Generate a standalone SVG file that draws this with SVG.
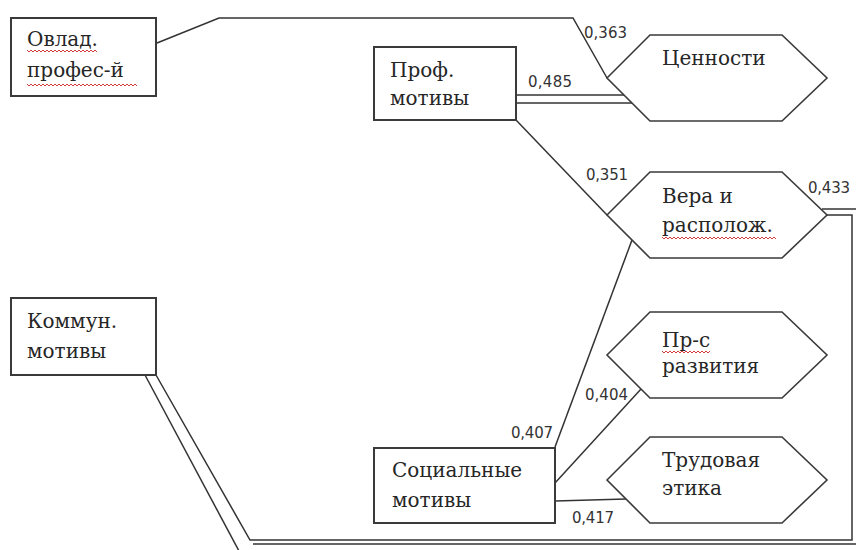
<svg xmlns="http://www.w3.org/2000/svg" width="856" height="550" viewBox="0 0 856 550">
  <defs>
    <style>
      .box { fill: #ffffff; stroke: #3a3a3a; stroke-width: 2; }
      .hex { fill: #ffffff; stroke: #3a3a3a; stroke-width: 1.6; stroke-linejoin: miter; }
      .edge { fill: none; stroke: #333333; stroke-width: 1.5; }
      .lbl { font-family: "DejaVu Serif", serif; font-size: 20px; fill: #262626; }
      .num { font-family: "DejaVu Sans", "Liberation Sans", sans-serif; font-size: 15px; fill: #333333; }
      .spell { fill: none; stroke: #d23c3c; stroke-width: 1; }
    </style>
    <!-- Hexagon outline shared by the right-hand factor nodes -->
    <polygon id="hexShape" class="hex" points="0,0 43,-43 175,-43 220,0 175,43 43,43"/>
  </defs>

  <rect width="856" height="550" fill="#ffffff"/>

  <!-- connectors -->
  <g id="connectors">
    <!-- Овлад. профес-й -> Ценности -->
    <polyline class="edge" points="157,43 219,18 573,18 607,78"/>
    <!-- Проф. мотивы -> Ценности (double) -->
    <line class="edge" x1="516" y1="95" x2="624" y2="95"/>
    <line class="edge" x1="516" y1="103" x2="632" y2="103"/>
    <!-- Проф. мотивы -> Вера и располож. -->
    <line class="edge" x1="516" y1="120" x2="607" y2="215"/>
    <!-- Социальные мотивы -> Вера и располож. -->
    <line class="edge" x1="555" y1="447" x2="632" y2="240"/>
    <!-- Социальные мотивы -> Пр-с развития -->
    <line class="edge" x1="555" y1="483" x2="641" y2="389"/>
    <!-- Социальные мотивы -> Трудовая этика -->
    <line class="edge" x1="555" y1="501" x2="626" y2="499"/>
    <!-- Коммун. мотивы <-> Вера и располож. (double, around the frame) -->
    <polyline class="edge" points="156,375 250,540 852,540 852,215 827,215"/>
    <polyline class="edge" points="145,375 239,551"/>
    <line class="edge" x1="253" y1="544" x2="857" y2="544"/>
    <polyline class="edge" points="822,209 857,209"/>
  </g>

  <!-- rectangular nodes -->
  <g id="node-ovlad">
    <rect class="box" x="11" y="18" width="145" height="78"/>
    <text class="lbl" x="27" y="46">Овлад.</text>
    <text class="lbl" x="27" y="77">профес-й</text>
    <path class="spell" d="M27,50 l2,2 l2,-2 l2,2 l2,-2 l2,2 l2,-2 l2,2 l2,-2 l2,2 l2,-2 l2,2 l2,-2 l2,2 l2,-2 l2,2 l2,-2 l2,2 l2,-2 l2,2 l2,-2 l2,2 l2,-2 l2,2 l2,-2 l2,2 l2,-2 l2,2 l2,-2 l2,2 l2,-2 l2,2 l2,-2 l2,2 l2,-2 l2,2"/>
    <path class="spell" d="M27,84 l2,2 l2,-2 l2,2 l2,-2 l2,2 l2,-2 l2,2 l2,-2 l2,2 l2,-2 l2,2 l2,-2 l2,2 l2,-2 l2,2 l2,-2 l2,2 l2,-2 l2,2 l2,-2 l2,2 l2,-2 l2,2 l2,-2 l2,2 l2,-2 l2,2 l2,-2 l2,2 l2,-2 l2,2 l2,-2 l2,2 l2,-2 l2,2 l2,-2 l2,2 l2,-2 l2,2 l2,-2 l2,2 l2,-2 l2,2 l2,-2 l2,2 l2,-2 l2,2 l2,-2 l2,2 l2,-2 l2,2 l2,-2 l2,2 l2,-2 l2,2"/>
  </g>

  <g id="node-prof">
    <rect class="box" x="374" y="47" width="142" height="73"/>
    <text class="lbl" x="390" y="77">Проф.</text>
    <text class="lbl" x="390" y="105">мотивы</text>
  </g>

  <g id="node-kommun">
    <rect class="box" x="11" y="298" width="145" height="77"/>
    <text class="lbl" x="27" y="328">Коммун.</text>
    <text class="lbl" x="27" y="358">мотивы</text>
  </g>

  <g id="node-social">
    <rect class="box" x="374" y="448" width="181" height="75"/>
    <text class="lbl" x="392" y="477">Социальные</text>
    <text class="lbl" x="392" y="507">мотивы</text>
  </g>

  <!-- hexagonal nodes -->
  <g id="node-cennosti">
    <use href="#hexShape" x="607" y="78"/>
    <text class="lbl" x="662" y="65">Ценности</text>
  </g>

  <g id="node-vera">
    <use href="#hexShape" x="607" y="215"/>
    <text class="lbl" x="662" y="203">Вера и</text>
    <text class="lbl" x="662" y="232">располож.</text>
    <path class="spell" d="M662,237 l2,2 l2,-2 l2,2 l2,-2 l2,2 l2,-2 l2,2 l2,-2 l2,2 l2,-2 l2,2 l2,-2 l2,2 l2,-2 l2,2 l2,-2 l2,2 l2,-2 l2,2 l2,-2 l2,2 l2,-2 l2,2 l2,-2 l2,2 l2,-2 l2,2 l2,-2 l2,2 l2,-2 l2,2 l2,-2 l2,2 l2,-2 l2,2 l2,-2 l2,2 l2,-2 l2,2 l2,-2 l2,2 l2,-2 l2,2 l2,-2 l2,2 l2,-2 l2,2 l2,-2 l2,2 l2,-2 l2,2 l2,-2 l2,2 l2,-2 l2,2 l2,-2 l2,2"/>
  </g>

  <g id="node-razvitie">
    <use href="#hexShape" x="607" y="355"/>
    <text class="lbl" x="662" y="347">Пр-с</text>
    <text class="lbl" x="662" y="373">развития</text>
    <path class="spell" d="M662,351 l2,2 l2,-2 l2,2 l2,-2 l2,2 l2,-2 l2,2 l2,-2 l2,2 l2,-2 l2,2 l2,-2 l2,2 l2,-2 l2,2 l2,-2 l2,2 l2,-2 l2,2 l2,-2 l2,2 l2,-2 l2,2 l2,-2"/>
  </g>

  <g id="node-etika">
    <use href="#hexShape" x="607" y="480"/>
    <text class="lbl" x="662" y="467">Трудовая</text>
    <text class="lbl" x="662" y="495">этика</text>
  </g>

  <!-- coefficients -->
  <g id="coefficients">
    <text class="num" x="584" y="38" textLength="43">0,363</text>
    <text class="num" x="528" y="87" textLength="44">0,485</text>
    <text class="num" x="586" y="180" textLength="42">0,351</text>
    <text class="num" x="808" y="193" textLength="42">0,433</text>
    <text class="num" x="585" y="400" textLength="43">0,404</text>
    <text class="num" x="511" y="438" textLength="42">0,407</text>
    <text class="num" x="572" y="523" textLength="42">0,417</text>
  </g>
</svg>
